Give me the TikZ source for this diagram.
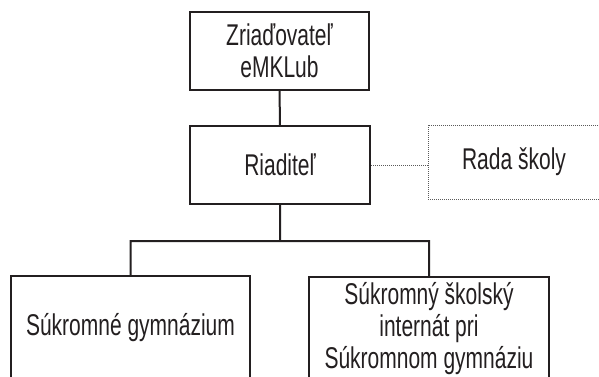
\documentclass[tikz,border=0pt]{standalone}
\usepackage{fontspec}
\setmainfont[FakeStretch=0.7]{Liberation Sans}
\usetikzlibrary{positioning}
\definecolor{orgline} {RGB}{35,31,32}
\definecolor{orgdot}  {RGB}{90,90,90}
\tikzset{
  orgbox/.style={draw=orgline, line width=2pt, fill=white,
    inner sep=0pt, align=center, text=orgline,
    font=\fontsize{30}{32}\selectfont},
  advbox/.style={orgbox, draw=orgdot, line width=1pt,
    dash pattern=on 1pt off 1pt},
  orgedge/.style={draw=orgline, line width=2pt},
  advedge/.style={draw=orgdot, line width=1pt, dash pattern=on 1pt off 1pt}
}
\begin{document}
\begin{tikzpicture}[x=1pt, y=1pt]
            \clip (0,0) rectangle (599,376);

            % founder
            \node (zriad)
              [orgbox,
               minimum width=179pt, minimum height=78pt]
              at(279.5,325)
              {Zriaďovateľ\\eMKLub};

            % director
            \node (riad)
              [orgbox,
               minimum width=180pt, minimum height=78pt]
              at(280,211)
              {Riaditeľ};

            % school board
            \node (rada)
              [advbox,
               minimum width=172pt, minimum height=74pt]
              at(514,214)
              {Rada školy};

            % schools
            \node (gym)
              [orgbox,
               minimum width=239pt, minimum height=104pt]
              at(130.5,48)
              {Súkromné gymnázium};
            \node (intern)
              [orgbox,
               minimum width=240pt, minimum height=103pt]
              at(429,47.5)
              {Súkromný školský\\internát pri\\Súkromnom gymnáziu};

            % edges
            \coordinate (fork) at (280,135);
            \path [orgedge]
              (zriad) -- (riad)
              (riad) -- (fork)
              (gym.north) |- (fork) -| (intern.north)
              ;
            \path [advedge]
              (riad.east) -- (riad.east -| rada.west)
              ;
        \end{tikzpicture}
\end{document}
